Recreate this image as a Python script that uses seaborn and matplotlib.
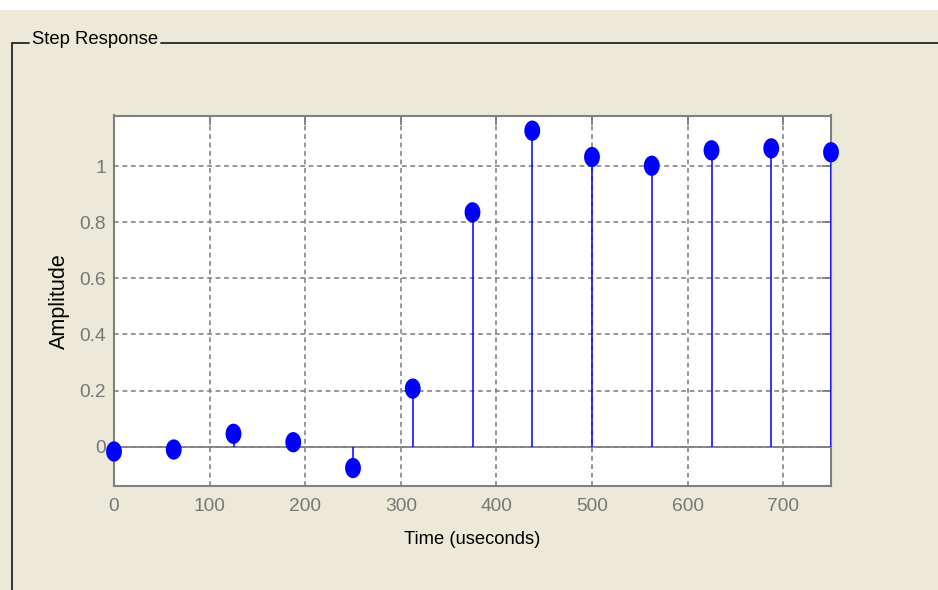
import numpy as np
import pandas as pd
import matplotlib
matplotlib.use("Agg")
import matplotlib.pyplot as plt
import seaborn as sns
from matplotlib.path import Path
from matplotlib.lines import Line2D
from matplotlib.patches import Rectangle

# Sampled step response (sample period 62.5 us)
time_us = [0, 62.5, 125, 187.5, 250, 312.5, 375, 437.5, 500, 562.5, 625, 687.5, 750]
amplitude = [-0.017, -0.010, 0.046, 0.016, -0.076, 0.207, 0.835, 1.126,
             1.032, 1.001, 1.056, 1.063, 1.049]

x_ticks = [0, 100, 200, 300, 400, 500, 600, 700]
y_ticks = [0, 0.2, 0.4, 0.6, 0.8, 1.0]
y_tick_labels = ["0", "0.2", "0.4", "0.6", "0.8", "1"]

panel_title = "Step Response"
x_label = "Time (useconds)"
y_label = "Amplitude"

df = pd.DataFrame({"time": time_us, "amp": amplitude})

sns.set_theme(style="white")
plt.rcParams["font.family"] = ["Liberation Sans", "DejaVu Sans"]

W, H = 938, 590
panel_bg = "#ECE9D8"
axis_gray = "#808080"

fig = plt.figure(figsize=(W / 100, H / 100), dpi=100, facecolor=panel_bg)

# white strip along the top edge
fig.patches.append(Rectangle((0, 1 - 10 / H), 1, 10 / H, transform=fig.transFigure,
                             facecolor="white", edgecolor="none", zorder=0))

# group box frame with its caption
def fx(px):
    return px / W

def fy(py):
    return 1 - py / H

frame_kw = dict(color="#333333", lw=1.4, transform=fig.transFigure)
fig.add_artist(Line2D([fx(12), fx(12)], [fy(43), fy(590)], **frame_kw))
fig.add_artist(Line2D([fx(12), fx(29)], [fy(43), fy(43)], **frame_kw))
fig.add_artist(Line2D([fx(161), fx(938)], [fy(43), fy(43)], **frame_kw))
fig.text(fx(32), fy(44), panel_title, fontsize=13.3, color="black",
         ha="left", va="baseline")

ax = fig.add_axes([fx(114), fy(486), (831 - 114) / W, (486 - 115.5) / H])
ax.set_facecolor("white")

# slightly tall elliptical marker
theta = np.linspace(0, 2 * np.pi, 64)
ellipse = Path(np.column_stack([0.78 * np.cos(theta), np.sin(theta)]), closed=True)

ax.axhline(0, color=axis_gray, lw=1.3, zorder=2)
ax.vlines(df["time"], 0, df["amp"], color="blue", lw=1.1, zorder=3)
sns.scatterplot(data=df, x="time", y="amp", marker=ellipse, s=14.6 ** 2,
                color="blue", edgecolor="none", linewidth=0, zorder=4,
                legend=False, ax=ax, clip_on=False)

ax.set_xlim(0, 750)
ax.set_ylim(-0.14, 1.18)
ax.set_xticks(x_ticks)
ax.set_xticklabels([str(t) for t in x_ticks])
ax.set_yticks(y_ticks)
ax.set_yticklabels(y_tick_labels)

ax.grid(True, color=axis_gray, ls=(0, (3.0, 2.3)), lw=1.15)
ax.set_axisbelow(True)

for s in ax.spines.values():
    s.set_color(axis_gray)
    s.set_linewidth(1.5)
    s.set_visible(True)

ax.tick_params(axis="both", direction="in", length=6.5, width=1.3, color=axis_gray,
               top=True, right=True, labelsize=13.8, labelcolor="#777777")
ax.tick_params(axis="x", pad=8.5)
ax.tick_params(axis="y", pad=6)

ax.set_xlabel(x_label, fontsize=13.2, color="black")
ax.set_ylabel(y_label, fontsize=15.5, color="black")
ax.xaxis.set_label_coords(0.5, -0.122)
ax.yaxis.set_label_coords(-0.061, 0.5)

fig.savefig("out.png", dpi=100, facecolor=fig.get_facecolor())
